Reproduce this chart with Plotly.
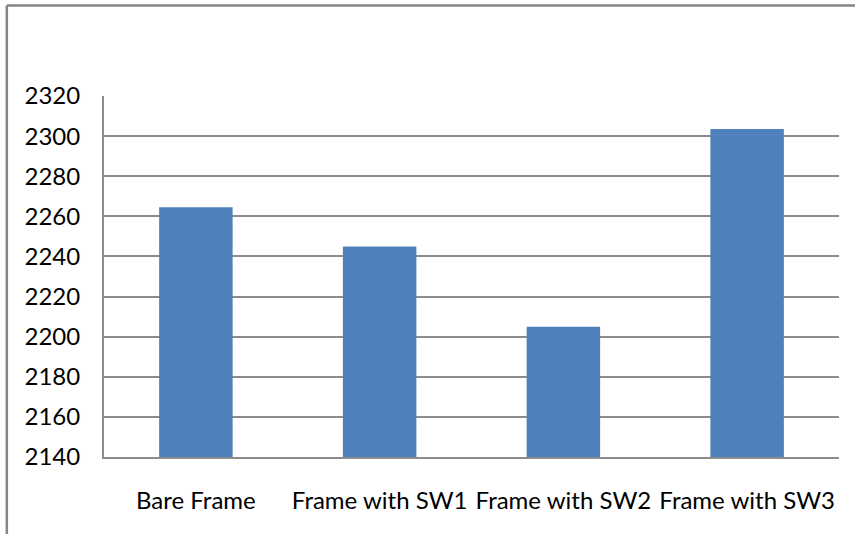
import plotly.graph_objects as go

categories = ["Bare Frame", "Frame with SW1", "Frame with SW2", "Frame with SW3"]
values = [2264.5, 2245, 2205, 2303.5]
y_ticks = [2140, 2160, 2180, 2200, 2220, 2240, 2260, 2280, 2300, 2320]

bar_color = "#4F81BD"
grid_color = "#8C8C8C"
font_family = "Lato, 'Open Sans', sans-serif"

fig = go.Figure(
    go.Bar(
        x=categories,
        y=values,
        marker=dict(color=bar_color, line=dict(width=0)),
    )
)

# chart border (top and left edges)
border = dict(type="line", xref="paper", yref="paper",
              line=dict(color="#868686", width=2.5))
fig.add_shape(**border, x0=-0.1322, x1=-0.1322, y0=-0.3, y1=1.251)
fig.add_shape(**border, x0=-0.1322, x1=1.5, y0=1.251, y1=1.251)

fig.update_layout(
    width=855,
    height=534,
    margin=dict(l=104, r=16, t=96, b=77),
    paper_bgcolor="white",
    plot_bgcolor="white",
    bargap=0.6,
    showlegend=False,
    font=dict(family=font_family, size=24, color="black"),
    xaxis=dict(
        showline=True, linecolor=grid_color, linewidth=2,
        showgrid=False, ticks="", ticklabelstandoff=21,
        tickfont=dict(size=24),
    ),
    yaxis=dict(
        range=[2140, 2320],
        tickvals=y_ticks,
        showline=True, linecolor=grid_color, linewidth=2,
        showgrid=True, gridcolor=grid_color, gridwidth=2,
        ticks="", ticklabelstandoff=17,
        tickfont=dict(size=24),
        zeroline=False,
    ),
)

fig.write_html("out.html")
